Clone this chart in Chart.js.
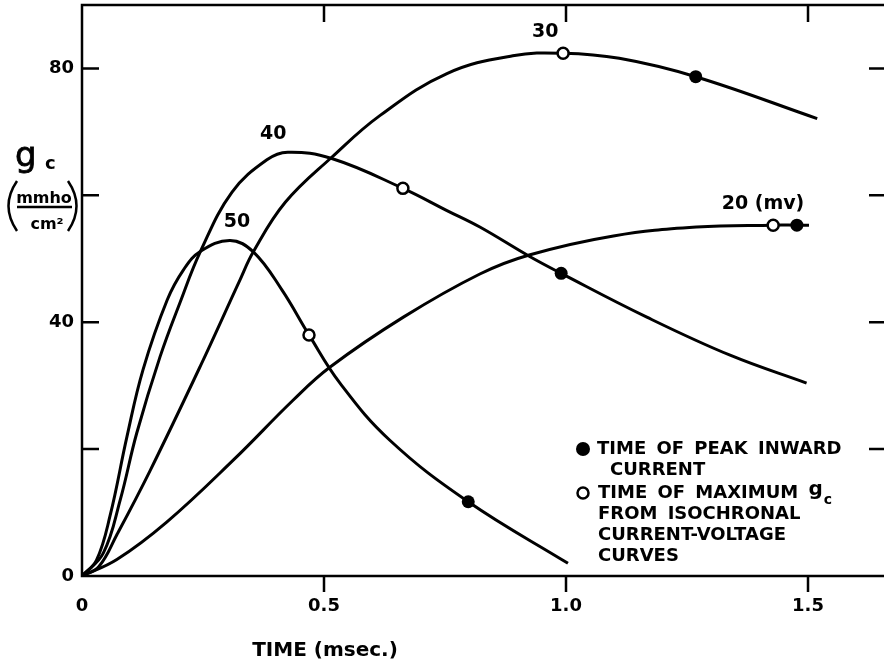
<!DOCTYPE html>
<html>
<head>
<meta charset="utf-8">
<script src="https://cdn.jsdelivr.net/npm/chart.js@4.4.1/dist/chart.umd.min.js"></script>
<style>
    html, body { margin: 0; padding: 0; background: #fff; }
    #wrap { width: 884px; height: 669px; }
</style>
</head>
<body>
<div id="wrap"><canvas id="myChart" width="884" height="669"></canvas></div>
<script>
// conductance curves, one per clamp step (mV)
const time20 = [0, 0.072, 0.175, 0.313, 0.436, 0.512, 0.664, 0.822, 0.924, 1.098, 1.27, 1.428, 1.477, 1.502];
const gc20 = [0, 2.6, 8.5, 18.3, 27.7, 32.9, 40.8, 47.6, 50.6, 53.6, 55.0, 55.3, 55.3, 55.3];

const time30 = [0, 0.035, 0.072, 0.14, 0.244, 0.326, 0.354, 0.42, 0.516, 0.616, 0.754, 0.89, 0.994, 1.11, 1.268, 1.519];
const gc30 = [0, 1.5, 6.5, 16.5, 33.0, 46.6, 51.1, 58.9, 66.0, 72.6, 79.2, 82.0, 82.4, 81.6, 78.7, 72.1];

const time40 = [0, 0.044, 0.079, 0.113, 0.161, 0.202, 0.245, 0.31, 0.382, 0.425, 0.516, 0.663, 0.754, 0.822, 0.924, 0.99, 1.167, 1.339, 1.497];
const gc40 = [0, 3.6, 12.0, 22.5, 34.5, 43.0, 51.2, 60.5, 65.6, 66.8, 65.8, 61.1, 57.6, 55.0, 50.4, 47.7, 40.8, 34.8, 30.4];

const time50 = [0, 0.03, 0.058, 0.093, 0.126, 0.176, 0.21, 0.245, 0.306, 0.354, 0.413, 0.469, 0.533, 0.636, 0.798, 1.004];
const gc50 = [0, 2.5, 9.5, 22.0, 32.5, 43.5, 48.3, 51.2, 52.9, 51.1, 45.1, 38.0, 30.4, 21.4, 11.7, 2.0];

// filled dots: time of peak inward current (20, 30, 40, 50 mV)
const peakCurrentTime = [1.477, 1.268, 0.99, 0.798];
const peakCurrentGc = [55.3, 78.7, 47.7, 11.7];

// open dots: time of maximum gc from isochronal I-V curves
const maxGcTime = [1.428, 0.994, 0.663, 0.469];
const maxGcGc = [55.3, 82.4, 61.1, 38.0];

const curveNames = ['20 (mv)', '30', '40', '50'];

const xTicks = [0, 0.5, 1.0, 1.5];
const xTickLabels = ['0', '0.5', '1.0', '1.5'];
const yTicks = [0, 20, 40, 60, 80];
const yTickLabels = ['0', '', '40', '', '80'];

const FONT = 'DejaVu Sans';

const pairs = (t, g) => t.map((v, i) => ({ x: v, y: g[i] }));

const curveSets = [[time20, gc20], [time30, gc30], [time40, gc40], [time50, gc50]].map(function ([t, g], i) {
    return {
        label: curveNames[i],
        data: pairs(t, g),
        showLine: true,
        borderColor: '#000',
        borderWidth: 3,
        pointRadius: 0,
        tension: 0.4,
        fill: false,
        order: 2,
    };
});

const datasets = curveSets.concat([
    {
        label: 'peak inward current',
        data: pairs(peakCurrentTime, peakCurrentGc),
        showLine: false,
        pointRadius: 6.5,
        pointBackgroundColor: '#000',
        pointBorderWidth: 0,
        order: 0,
    },
    {
        label: 'maximum gc',
        data: pairs(maxGcTime, maxGcGc),
        showLine: false,
        pointRadius: 5.5,
        pointBackgroundColor: '#fff',
        pointBorderColor: '#000',
        pointBorderWidth: 2.5,
        order: 0,
    },
]);

// frame, inward ticks, titles, curve labels and the key
const decor = {
    id: 'decor',
    afterDraw(chart) {
        const { ctx, chartArea: a } = chart;
        const x = chart.scales.x, y = chart.scales.y;
        ctx.save();
        ctx.strokeStyle = '#000';
        ctx.fillStyle = '#000';
        ctx.lineWidth = 2.5;

        ctx.beginPath();
        ctx.moveTo(a.right, a.top);
        ctx.lineTo(a.left, a.top);
        ctx.lineTo(a.left, a.bottom);
        ctx.lineTo(a.right, a.bottom);
        ctx.stroke();

        ctx.beginPath();
        yTicks.forEach(function (v) {
            if (v === 0) return;
            const py = y.getPixelForValue(v);
            ctx.moveTo(a.left, py); ctx.lineTo(a.left + 17, py);
            ctx.moveTo(a.right, py); ctx.lineTo(a.right - 15, py);
        });
        xTicks.forEach(function (v) {
            if (v === 0) return;
            const px = x.getPixelForValue(v);
            ctx.moveTo(px, a.bottom); ctx.lineTo(px, a.bottom + 16);
            ctx.moveTo(px, a.top); ctx.lineTo(px, a.top + 17);
        });
        ctx.stroke();

        // curve labels
        const labelSpots = [[1.407, 58.6], [0.957, 85.7], [0.395, 69.7], [0.32, 55.8]];
        ctx.font = 'bold 19px "' + FONT + '"';
        ctx.textAlign = 'center';
        ctx.textBaseline = 'middle';
        curveNames.forEach(function (name, i) {
            ctx.fillText(name, x.getPixelForValue(labelSpots[i][0]), y.getPixelForValue(labelSpots[i][1]));
        });

        // x title
        ctx.font = 'bold 20px "' + FONT + '"';
        ctx.fillText('TIME (msec.)', 325, 651);

        // y title: gc (mmho / cm2)
        ctx.textAlign = 'left';
        ctx.textBaseline = 'alphabetic';
        ctx.font = '34px "' + FONT + '"';
        ctx.fillText('g', 15, 166);
        ctx.lineWidth = 0.8;
        ctx.strokeText('g', 15, 166);
        ctx.font = 'bold 18px "' + FONT + '"';
        ctx.fillText('c', 45, 169);
        ctx.textAlign = 'center';
        ctx.font = 'bold 16px "' + FONT + '"';
        ctx.fillText('mmho', 44, 203);
        ctx.fillText('cm\u00b2', 47, 229);
        ctx.lineWidth = 2.5;
        ctx.beginPath();
        ctx.moveTo(17, 207); ctx.lineTo(72, 207);
        ctx.moveTo(17, 181); ctx.quadraticCurveTo(0, 206, 17, 231);
        ctx.moveTo(68, 181); ctx.quadraticCurveTo(85, 206, 68, 231);
        ctx.stroke();

        // key
        ctx.beginPath();
        ctx.arc(583, 449, 7, 0, Math.PI * 2);
        ctx.fill();
        ctx.fillStyle = '#fff';
        ctx.beginPath();
        ctx.arc(583, 493, 5.5, 0, Math.PI * 2);
        ctx.fill();
        ctx.stroke();
        ctx.fillStyle = '#000';

        ctx.textAlign = 'left';
        ctx.textBaseline = 'middle';
        ctx.font = 'bold 18px "' + FONT + '"';
        ctx.wordSpacing = '4px';
        ctx.fillText('TIME OF PEAK INWARD', 597, 449);
        ctx.fillText('CURRENT', 610, 470);
        const head = 'TIME OF MAXIMUM ';
        ctx.fillText(head, 598, 493);
        const gx = 598 + ctx.measureText(head).width;
        ctx.font = 'bold 20px "' + FONT + '"';
        ctx.fillText('g', gx, 490);
        const cx = gx + ctx.measureText('g').width;
        ctx.font = 'bold 14px "' + FONT + '"';
        ctx.fillText('c', cx + 1, 500);
        ctx.font = 'bold 18px "' + FONT + '"';
        ctx.fillText('FROM ISOCHRONAL', 598, 514);
        ctx.fillText('CURRENT-VOLTAGE', 598, 535);
        ctx.fillText('CURVES', 598, 556);
        ctx.restore();
    },
};

const tickFont = { family: FONT, size: 18, weight: 'bold' };

new Chart(document.getElementById('myChart').getContext('2d'), {
    type: 'scatter',
    data: { datasets: datasets },
    options: {
        responsive: false,
        animation: false,
        layout: { autoPadding: false, padding: { top: 5, right: 0, bottom: 0, left: 0 } },
        plugins: {
            legend: { display: false },
            tooltip: { enabled: false },
        },
        scales: {
            x: {
                type: 'linear',
                min: 0,
                max: 1.657,
                grid: { display: false },
                border: { display: false },
                afterBuildTicks: function (s) { s.ticks = xTicks.map(v => ({ value: v })); },
                afterFit: function (s) {
                    s.height = 93;
                    s.paddingLeft = 0;
                    s.paddingRight = 0;
                },
                ticks: {
                    padding: 12,
                    color: '#000',
                    font: tickFont,
                    maxRotation: 0,
                    autoSkip: false,
                    callback: v => xTickLabels[xTicks.indexOf(v)],
                },
            },
            y: {
                type: 'linear',
                min: 0,
                max: 90,
                grid: { display: false },
                border: { display: false },
                afterBuildTicks: function (s) { s.ticks = yTicks.map(v => ({ value: v })); },
                afterFit: function (s) {
                    s.width = 82;
                    s.paddingTop = 0;
                    s.paddingBottom = 0;
                },
                ticks: {
                    padding: 0,
                    color: '#000',
                    font: tickFont,
                    autoSkip: false,
                    callback: v => yTickLabels[yTicks.indexOf(v)],
                },
            },
        },
    },
    plugins: [decor],
});
</script>
</body>
</html>
